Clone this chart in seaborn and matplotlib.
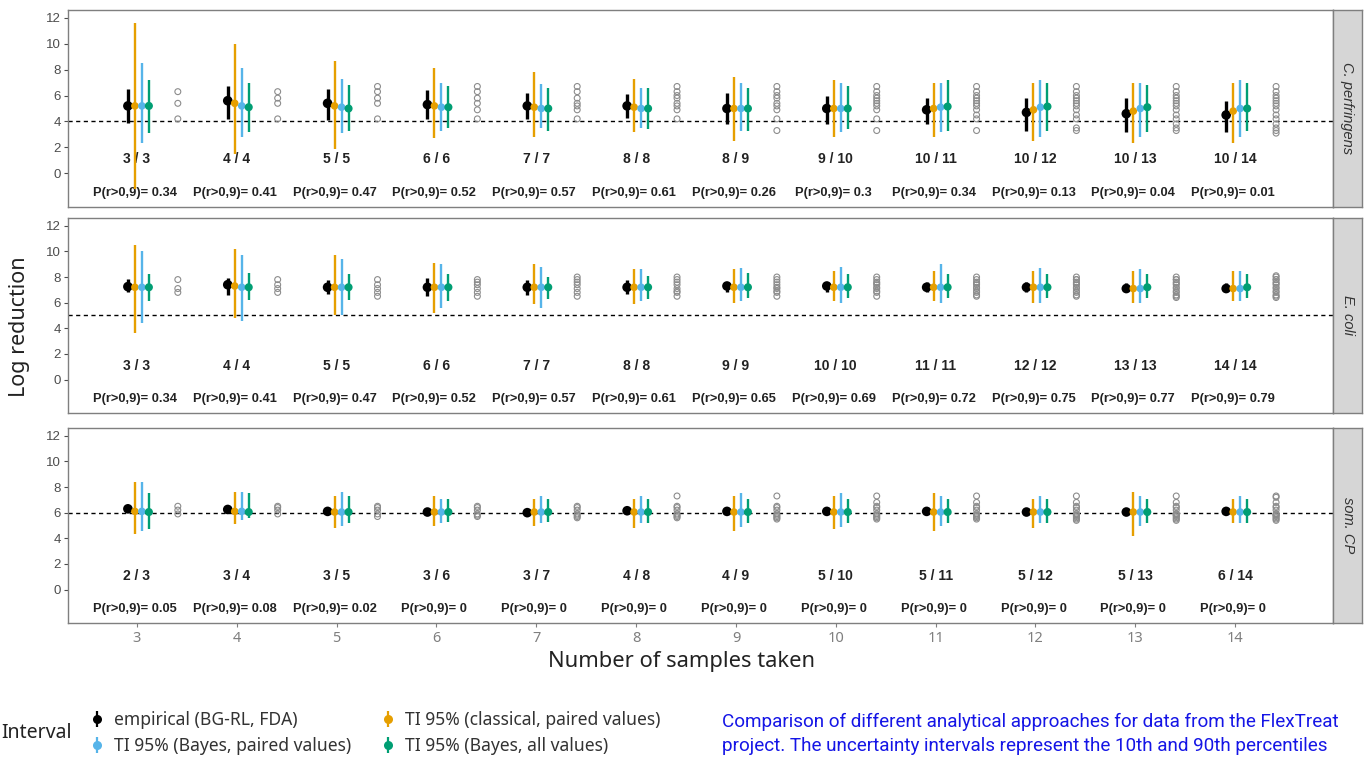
import numpy as np
import pandas as pd
import matplotlib
matplotlib.use("Agg")
import matplotlib.pyplot as plt
from matplotlib.lines import Line2D
from matplotlib.legend_handler import HandlerTuple
import seaborn as sns

sns.set_theme(style="white")
plt.rcParams['font.family'] = ['Liberation Sans', 'DejaVu Sans']

# ---------------- data ----------------
n_samples = [3, 4, 5, 6, 7, 8, 9, 10, 11, 12, 13, 14]
panels = ["C. perfringens", "E. coli", "som. CP"]
thresholds = [4, 5, 6]
methods = ["empirical (BG-RL, FDA)", "TI 95% (classical, paired values)",
           "TI 95% (Bayes, paired values)", "TI 95% (Bayes, all values)"]

# C. perfringens
cp_emp    = [5.2, 5.6, 5.4, 5.3, 5.2, 5.2, 5.0, 5.0, 4.9, 4.7, 4.6, 4.5]
cp_emp_lo = [3.9, 4.2, 4.1, 4.2, 4.2, 4.3, 3.8, 3.8, 3.8, 3.3, 3.2, 3.2]
cp_emp_hi = [6.5, 6.7, 6.5, 6.4, 6.2, 6.1, 6.2, 6.0, 5.8, 5.8, 5.8, 5.6]
cp_cls    = [5.2, 5.4, 5.2, 5.2, 5.1, 5.1, 5.0, 5.0, 5.0, 4.9, 4.8, 4.8]
cp_cls_lo = [-1.2, 1.5, 1.9, 2.7, 2.8, 3.2, 2.5, 2.8, 2.8, 2.5, 2.3, 2.3]
cp_cls_hi = [11.6, 10.0, 8.7, 8.1, 7.8, 7.3, 7.4, 7.2, 7.0, 7.0, 7.0, 7.0]
cp_bp     = [5.2, 5.2, 5.1, 5.1, 5.0, 5.0, 5.0, 5.0, 5.1, 5.1, 5.0, 5.0]
cp_bp_lo  = [2.3, 2.8, 3.1, 3.3, 3.5, 3.5, 3.3, 3.2, 3.2, 2.8, 2.8, 2.8]
cp_bp_hi  = [8.5, 8.1, 7.3, 7.0, 6.9, 6.6, 7.0, 7.0, 7.0, 7.2, 7.0, 7.2]
cp_ba     = [5.2, 5.1, 5.0, 5.1, 5.0, 5.0, 5.0, 5.0, 5.15, 5.15, 5.1, 5.0]
cp_ba_lo  = [3.1, 3.2, 3.3, 3.5, 3.3, 3.4, 3.3, 3.4, 3.3, 3.3, 3.2, 3.3]
cp_ba_hi  = [7.2, 7.0, 6.8, 6.7, 6.6, 6.6, 6.6, 6.7, 7.2, 7.0, 6.8, 7.0]
cp_raw    = [6.3, 5.4, 4.2, 5.8, 6.7, 4.9, 5.2, 6.0, 3.3, 5.6, 4.5, 3.5, 3.8, 3.1]
cp_k      = [3, 4, 5, 6, 7, 8, 8, 9, 10, 10, 10, 10]
cp_p      = [0.34, 0.41, 0.47, 0.52, 0.57, 0.61, 0.26, 0.3, 0.34, 0.13, 0.04, 0.01]

# E. coli
ec_emp    = [7.25, 7.4, 7.2, 7.2, 7.2, 7.2, 7.3, 7.3, 7.2, 7.2, 7.1, 7.1]
ec_emp_lo = [6.8, 6.6, 6.7, 6.5, 6.6, 6.7, 6.8, 6.8, 6.8, 6.8, 6.8, 6.8]
ec_emp_hi = [7.85, 7.95, 7.8, 7.9, 7.8, 7.8, 7.6, 7.6, 7.6, 7.6, 7.5, 7.5]
ec_cls    = [7.2, 7.3, 7.2, 7.2, 7.2, 7.2, 7.2, 7.2, 7.2, 7.2, 7.1, 7.1]
ec_cls_lo = [3.6, 4.8, 5.0, 5.2, 5.9, 5.9, 6.0, 6.1, 6.1, 6.0, 6.0, 6.1]
ec_cls_hi = [10.5, 10.2, 9.7, 9.1, 9.0, 8.6, 8.6, 8.5, 8.5, 8.5, 8.5, 8.5]
ec_bp     = [7.2, 7.2, 7.2, 7.2, 7.2, 7.2, 7.2, 7.2, 7.2, 7.2, 7.1, 7.1]
ec_bp_lo  = [4.4, 4.6, 5.0, 5.6, 5.6, 6.1, 6.1, 6.0, 6.0, 6.0, 6.0, 6.1]
ec_bp_hi  = [10.0, 9.7, 9.4, 9.0, 8.8, 8.6, 8.7, 8.8, 9.0, 8.7, 8.6, 8.5]
ec_ba     = [7.2, 7.2, 7.2, 7.2, 7.2, 7.2, 7.2, 7.2, 7.2, 7.2, 7.2, 7.2]
ec_ba_lo  = [6.1, 6.2, 6.2, 6.1, 6.3, 6.3, 6.4, 6.4, 6.4, 6.4, 6.4, 6.4]
ec_ba_hi  = [8.2, 8.3, 8.2, 8.2, 8.0, 8.1, 8.3, 8.2, 8.2, 8.2, 8.2, 8.2]
ec_raw    = [7.8, 6.8, 7.1, 7.4, 6.5, 7.6, 8.0, 6.9, 7.2, 7.5, 6.6, 7.8, 6.4, 8.1]
ec_k      = [3, 4, 5, 6, 7, 8, 9, 10, 11, 12, 13, 14]
ec_p      = [0.34, 0.41, 0.47, 0.52, 0.57, 0.61, 0.65, 0.69, 0.72, 0.75, 0.77, 0.79]

# som. CP
sc_emp    = [6.3, 6.25, 6.1, 6.05, 6.0, 6.15, 6.1, 6.1, 6.1, 6.05, 6.05, 6.1]
sc_emp_lo = [6.15, 6.1, 5.95, 5.9, 5.85, 5.95, 5.95, 5.95, 5.95, 5.9, 5.9, 5.95]
sc_emp_hi = [6.45, 6.4, 6.25, 6.2, 6.15, 6.3, 6.25, 6.25, 6.25, 6.2, 6.2, 6.25]
sc_cls    = [6.1, 6.1, 6.05, 6.05, 6.05, 6.05, 6.05, 6.05, 6.05, 6.05, 6.05, 6.05]
sc_cls_lo = [4.3, 5.1, 4.8, 5.0, 5.0, 4.8, 4.6, 4.7, 4.6, 4.8, 4.2, 5.2]
sc_cls_hi = [8.4, 7.6, 7.3, 7.3, 7.1, 7.1, 7.3, 7.3, 7.5, 7.1, 7.6, 7.1]
sc_bp     = [6.1, 6.1, 6.05, 6.05, 6.05, 6.05, 6.05, 6.05, 6.05, 6.05, 6.05, 6.05]
sc_bp_lo  = [4.6, 5.4, 5.0, 5.2, 5.2, 5.2, 4.9, 4.9, 5.0, 5.2, 5.0, 5.2]
sc_bp_hi  = [8.4, 7.6, 7.6, 7.1, 7.3, 7.3, 7.5, 7.5, 7.3, 7.3, 7.3, 7.3]
sc_ba     = [6.05, 6.05, 6.05, 6.05, 6.05, 6.05, 6.05, 6.05, 6.05, 6.05, 6.05, 6.05]
sc_ba_lo  = [4.7, 5.6, 5.2, 5.3, 5.3, 5.2, 5.2, 5.2, 5.2, 5.2, 5.2, 5.2]
sc_ba_hi  = [7.5, 7.5, 7.3, 7.1, 7.1, 7.1, 7.1, 7.1, 7.1, 7.1, 7.1, 7.1]
sc_raw    = [6.5, 6.2, 5.9, 6.4, 5.7, 5.8, 5.6, 7.3, 5.5, 6.8, 5.8, 5.4, 5.9, 7.2]
sc_k      = [2, 3, 3, 3, 3, 4, 4, 5, 5, 5, 5, 6]
sc_p      = [0.05, 0.08, 0.02, 0, 0, 0, 0, 0, 0, 0, 0, 0]

# ---------------- build tables ----------------
panel_data = {
    "C. perfringens": dict(
        est=[cp_emp, cp_cls, cp_bp, cp_ba], lo=[cp_emp_lo, cp_cls_lo, cp_bp_lo, cp_ba_lo],
        hi=[cp_emp_hi, cp_cls_hi, cp_bp_hi, cp_ba_hi], raw=cp_raw, k=cp_k, p=cp_p),
    "E. coli": dict(
        est=[ec_emp, ec_cls, ec_bp, ec_ba], lo=[ec_emp_lo, ec_cls_lo, ec_bp_lo, ec_ba_lo],
        hi=[ec_emp_hi, ec_cls_hi, ec_bp_hi, ec_ba_hi], raw=ec_raw, k=ec_k, p=ec_p),
    "som. CP": dict(
        est=[sc_emp, sc_cls, sc_bp, sc_ba], lo=[sc_emp_lo, sc_cls_lo, sc_bp_lo, sc_ba_lo],
        hi=[sc_emp_hi, sc_cls_hi, sc_bp_hi, sc_ba_hi], raw=sc_raw, k=sc_k, p=sc_p),
}

dodge = [-0.09, -0.02, 0.05, 0.12]
raw_offset = 0.41
palette = {methods[0]: "#000000", methods[1]: "#E69F00",
           methods[2]: "#56B4E9", methods[3]: "#009E73"}
lws = [2.4, 1.7, 1.7, 1.7]
sizes = [48, 30, 30, 34]

rows = []
for pn, d in panel_data.items():
    for mi, m in enumerate(methods):
        for i, n in enumerate(n_samples):
            rows.append(dict(panel=pn, method=m, n=n, xpos=n + dodge[mi],
                             est=d["est"][mi][i], lo=d["lo"][mi][i], hi=d["hi"][mi][i]))
df = pd.DataFrame(rows)

raw_rows = []
for pn, d in panel_data.items():
    for n in n_samples:
        for v in d["raw"][:n]:
            raw_rows.append(dict(panel=pn, n=n, xpos=n + raw_offset, value=v))
raw_df = pd.DataFrame(raw_rows)

# ---------------- figure ----------------
W, H = 1365, 760
fig = plt.figure(figsize=(W / 100, H / 100), dpi=100)
fig.patch.set_facecolor("white")

left_px, right_px = 68, 1333
panel_px = [(10, 207), (218, 413), (428, 623)]
strip_w = 29
grey_txt = "#4D4D4D"

axes = []
for pi, pn in enumerate(panels):
    top, bot = panel_px[pi]
    ax = fig.add_axes([left_px / W, 1 - bot / H, (right_px - left_px) / W, (bot - top) / H])
    axes.append(ax)
    ax.set_facecolor("white")
    sub = df[df.panel == pn]
    # dashed threshold
    ax.axhline(thresholds[pi], color="black", lw=1.0, ls=(0, (3, 2.5)), zorder=1)
    # raw values
    rsub = raw_df[raw_df.panel == pn]
    sns.scatterplot(data=rsub, x="xpos", y="value", ax=ax, marker="o", s=18,
                    facecolor="none", edgecolor="#8C8C8C", linewidth=0.8,
                    legend=False, zorder=2)
    # intervals + points
    for mi, m in enumerate(methods):
        ms = sub[sub.method == m]
        ax.vlines(ms.xpos, ms.lo, ms.hi, color=palette[m], lw=lws[mi], zorder=3 + mi)
        sns.scatterplot(data=ms, x="xpos", y="est", ax=ax, color=palette[m],
                        s=sizes[mi], edgecolor="none", legend=False, zorder=3 + mi)
    d = panel_data[pn]
    for i, n in enumerate(n_samples):
        ax.text(n, 1.1, f"{d['k'][i]} / {n}", ha="center", va="center",
                fontsize=10, fontweight="bold", color="#222222")
        ax.text(n - 0.02, -1.5, f"P(r>0,9)= {d['p'][i]:g}", ha="center", va="center",
                fontsize=9.3, fontweight="bold", color="#222222")
    ax.set_xlim(2.31, 14.98)
    ax.set_ylim(-2.6, 12.6)
    ax.set_yticks([0, 2, 4, 6, 8, 10, 12])
    ax.set_xticks(n_samples)
    ax.set_xlabel("")
    ax.set_ylabel("")
    ax.tick_params(axis="y", labelsize=9.5, colors=grey_txt, length=3, width=0.8,
                   left=True, pad=2)
    ax.tick_params(axis="x", labelsize=10.5, colors="#7F7F7F", length=3, width=0.8,
                   bottom=(pi == 2), labelbottom=(pi == 2), pad=3)
    for lab in ax.get_xticklabels():
        lab.set_family("Noto Sans")
    for s in ax.spines.values():
        s.set_color("#7F7F7F")
        s.set_linewidth(1.0)
    # strip
    sax = fig.add_axes([right_px / W, 1 - bot / H, strip_w / W, (bot - top) / H])
    sax.set_facecolor("#D6D6D6")
    sax.set_xticks([])
    sax.set_yticks([])
    for s in sax.spines.values():
        s.set_color("#7F7F7F")
        s.set_linewidth(1.0)
    sax.text(0.5, 0.5, pn, rotation=-90, ha="center", va="center", style="italic",
             fontsize=10.5, color="#333333", transform=sax.transAxes)

fig.text(20 / W, 1 - 327 / H, "Log reduction", rotation=90, ha="center", va="center",
         fontsize=15.5, color="#222222", family="Noto Sans")
fig.text(681 / W, 1 - 662 / H, "Number of samples taken", ha="center", va="center",
         fontsize=15.8, color="#222222", family="Noto Sans")

# legend
fig.text(37 / W, 1 - 733 / H, "Interval", ha="center", va="center", fontsize=14,
         color="#222222", family="Noto Sans")
order = [methods[0], methods[2], methods[1], methods[3]]
handles = []
for m in order:
    h_line = Line2D([], [], marker="|", markersize=11, markeredgewidth=1.6,
                    color=palette[m], lw=0)
    h_pt = Line2D([], [], marker="o", markersize=6.5, color=palette[m], lw=0,
                  markeredgewidth=0)
    handles.append((h_line, h_pt))
fig.legend(handles, order, ncol=2, loc="center left",
           bbox_to_anchor=(72 / W, 1 - 733 / H), frameon=False,
           handler_map={tuple: HandlerTuple(ndivide=1)},
           prop={"family": "Noto Sans", "size": 12.6}, labelcolor="#333333",
           handlelength=1.0, handletextpad=0.5, columnspacing=1.6, labelspacing=0.5)

fig.text(722 / W, 1 - 722 / H,
         "Comparison of different analytical approaches for data from the FlexTreat",
         ha="left", va="center", fontsize=13.6, color="#1515E6", family="Roboto")
fig.text(722 / W, 1 - 746 / H,
         "project. The uncertainty intervals represent the 10th and 90th percentiles",
         ha="left", va="center", fontsize=13.6, color="#1515E6", family="Roboto")

fig.savefig("out.png", dpi=100, facecolor="white")
